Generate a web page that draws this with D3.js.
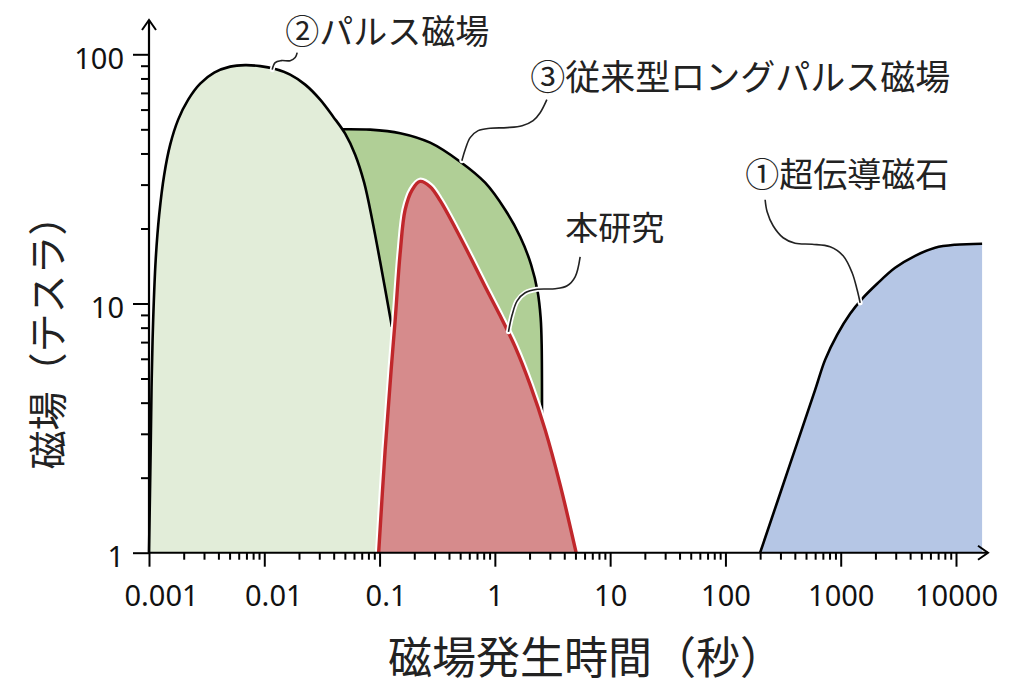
<!DOCTYPE html>
<html><head><meta charset="utf-8">
<script src="https://cdn.jsdelivr.net/npm/d3@7"></script>
<style>
body{margin:0;background:#fff}
.num{font-family:"Noto Sans","Open Sans",sans-serif;fill:#111}
.jp{font-family:"Noto Sans CJK JP","Noto Sans",sans-serif;fill:#222}
</style>
</head><body><svg id="c" width="1024" height="699"></svg>
<script>
// ---------- axis data ----------
const xTickValues = [0.001, 0.01, 0.1, 1, 10, 100, 1000, 10000];
const xTickLabels = ["0.001", "0.01", "0.1", "1", "10", "100", "1000", "10000"];
const yTickValues = [1, 10, 100];
const yTickLabels = ["1", "10", "100"];
const xTitle = "磁場発生時間（秒）";
const yTitle = "磁場（テスラ）";

// ---------- ② pulse magnet (seconds, tesla) ----------
const pulseTime  = [0.001, 0.001034, 0.001055, 0.001087, 0.001143, 0.001226, 0.001355, 0.001527, 0.001791, 0.002188, 0.00278, 0.003678, 0.005061, 0.006829, 0.009213, 0.01243, 0.01677, 0.02263, 0.03053, 0.03959, 0.0503, 0.06143, 0.07353, 0.08627, 0.1012, 0.1141, 0.1279];
const pulseField = [1, 2.585, 4.938, 8.603, 14.98, 22.71, 32.88, 43.39, 54.68, 65.79, 76.26, 84.42, 89.24, 90.49, 89.66, 87.21, 82.88, 75.56, 65.79, 56.21, 48.03, 39.55, 30.53, 21.69, 14.71, 10.84, 8.06];
const pulseHiddenTime = [0.133];
const pulseHiddenField = [1];

// ---------- ③ conventional long pulse ----------
const longTime  = [0.04, 0.08287, 0.1509, 0.2747, 0.5003, 0.824, 1.228, 1.658, 2.064, 2.351, 2.496, 2.547, 2.547];
const longField = [50, 49.85, 48.26, 44.2, 37.07, 30.53, 23.78, 18.53, 14.3, 11.14, 8.761, 6.826, 1];

// ---------- 本研究 ----------
const thisTime  = [0.0982, 0.1118, 0.126, 0.1366, 0.151, 0.1667, 0.1918, 0.2249, 0.2747, 0.3355, 0.4527, 0.6107, 0.824, 1.112, 1.5, 2.024, 2.731, 3.685, 5.07];
const thisField = [1, 2.585, 5.42, 8.6, 16.0, 23.8, 28.6, 30.9, 29.43, 25.85, 20.14, 15.4, 11.67, 8.925, 6.7, 4.716, 3.111, 1.871, 1];

// ---------- ① superconducting magnet ----------
const scTime  = [200, 364, 599.8, 732, 930.6, 1206, 1533, 2069, 2964, 4420, 6587, 9822, 16840];
const scField = [1, 2.271, 4.501, 5.94, 7.484, 9.093, 10.44, 12.0, 13.91, 15.54, 16.74, 17.21, 17.37];

// ---------- annotations (leader lines in data units) ----------
const labelTexts = ["②パルス磁場", "③従来型ロングパルス磁場", "本研究", "①超伝導磁石"];
const labelTime  = [0.01518, 2.024, 4.07, 148.3];
const labelField = [110.4, 71.8, 17.94, 29.43];
const leader2Time  = [0.01171, 0.01243, 0.01402, 0.01678, 0.01854, 0.01929];
const leader2Field = [86.8, 92.6, 94.3, 94.3, 97.0, 101.6];
const leader3Time  = [0.5175, 0.5526, 0.6107, 0.7163, 0.9103, 1.2786, 1.7252, 2.149, 2.471, 2.825];
const leader3Field = [37.4, 41.4, 46.3, 49.4, 50.5, 50.8, 51.7, 54.2, 58.3, 65.8];
const leaderThisTime  = [1.312, 1.4125, 1.561, 1.831, 2.328, 3.334, 4.236, 4.971, 5.493];
const leaderThisField = [7.70, 9.01, 10.25, 11.04, 11.40, 11.46, 11.78, 12.80, 15.40];
const leader1Time  = [221, 230, 259.2, 316.6, 402.3, 564.9, 809.3, 1049, 1256, 1388, 1474];
const leader1Field = [26.09, 23.35, 20.51, 18.36, 17.45, 17.29, 16.89, 15.54, 13.29, 11.35, 10.06];

// ---------- drawing ----------
const zip = (a, b) => a.map((v, i) => [v, b[i]]);
const svg = d3.select("#c");
const x = d3.scaleLog().domain([0.001, 10000]).range([149, 956]);
const y = d3.scaleLog().domain([1, 100]).range([552.7, 54.3]);
const curve = d3.curveCatmullRom.alpha(0.5);
const line = d3.line().x(d => x(d[0])).y(d => y(d[1])).curve(curve);
const area = d3.area().x(d => x(d[0])).y0(y(1)).y1(d => y(d[1])).curve(curve);

const pulse = zip(pulseTime, pulseField);
const pulseFill = pulse.concat(zip(pulseHiddenTime, pulseHiddenField));
const longP = zip(longTime, longField);
const thisP = zip(thisTime, thisField);
const sc = zip(scTime, scField);

const g = svg.append("g");
// ③
g.append("path").attr("d", area(longP)).attr("fill", "#b0cf96");
g.append("path").attr("d", line(longP)).attr("fill", "none").attr("stroke", "#000").attr("stroke-width", 2.6);
// ②
g.append("path").attr("d", area(pulseFill)).attr("fill", "#e2edd9");
g.append("path").attr("d", line(pulse)).attr("fill", "none").attr("stroke", "#000").attr("stroke-width", 2.6);
// 本研究
g.append("path").attr("d", line(thisP)).attr("fill", "none").attr("stroke", "#fff").attr("stroke-width", 7.5).attr("stroke-linejoin", "round");
g.append("path").attr("d", area(thisP)).attr("fill", "#d68b8c");
g.append("path").attr("d", line(thisP)).attr("fill", "none").attr("stroke", "#c0272b").attr("stroke-width", 3.4);
// ①
g.append("path").attr("d", area(sc)).attr("fill", "#b5c6e5");
g.append("path").attr("d", line(sc)).attr("fill", "none").attr("stroke", "#000").attr("stroke-width", 2.6);

// ---------- axes ----------
const minorTicks = (lo, hi) => {
  const out = [];
  for (let d = lo; d < hi * 0.999; d *= 10) for (let k = 2; k <= 9; k++) out.push(d * k);
  return out;
};
const axisG = svg.append("g");
const yAxis0 = y(1);
axisG.append("g").attr("transform", `translate(0,${yAxis0})`)
  .call(d3.axisBottom(x).tickValues(minorTicks(0.001, 10000)).tickSize(7).tickFormat(""))
  .call(s => s.select(".domain").remove())
  .call(s => s.selectAll("line").attr("stroke", "#000").attr("stroke-width", 2));
axisG.append("g").attr("transform", `translate(0,${yAxis0})`)
  .call(d3.axisBottom(x).tickValues(xTickValues).tickSize(14).tickFormat((d, i) => xTickLabels[i]))
  .call(s => s.select(".domain").remove())
  .call(s => s.selectAll("line").attr("stroke", "#000").attr("stroke-width", 2))
  .call(s => s.selectAll("text").attr("class", "num").attr("font-size", 29).attr("y", 53).attr("dy", 0)
    .attr("dx", d => { const l = xTickLabels[xTickValues.indexOf(d)]; return l.includes(".") ? 3 * l.length - 3 : 0; }));
const xAxis0 = x(0.001);
axisG.append("g").attr("transform", `translate(${xAxis0},0)`)
  .call(d3.axisLeft(y).tickValues(minorTicks(1, 100)).tickSize(8).tickFormat(""))
  .call(s => s.select(".domain").remove())
  .call(s => s.selectAll("line").attr("stroke", "#000").attr("stroke-width", 2));
axisG.append("g").attr("transform", `translate(${xAxis0},0)`)
  .call(d3.axisLeft(y).tickValues(yTickValues).tickSize(16).tickFormat((d, i) => yTickLabels[i]))
  .call(s => s.select(".domain").remove())
  .call(s => s.selectAll("line").attr("stroke", "#000").attr("stroke-width", 2))
  .call(s => s.selectAll("text").attr("class", "num").attr("font-size", 29).attr("x", -25).attr("dy", 0).attr("y", 14));
const xEnd = 988, yTop = 20;
axisG.append("line").attr("x1", xAxis0).attr("x2", xEnd).attr("y1", yAxis0).attr("y2", yAxis0).attr("stroke", "#000").attr("stroke-width", 2);
axisG.append("line").attr("x1", xAxis0).attr("x2", xAxis0).attr("y1", yAxis0).attr("y2", yTop).attr("stroke", "#000").attr("stroke-width", 2.2);
axisG.append("path").attr("d", `M${xEnd - 10},${yAxis0 - 7}L${xEnd},${yAxis0}L${xEnd - 10},${yAxis0 + 7}`).attr("fill", "none").attr("stroke", "#000").attr("stroke-width", 2);
axisG.append("path").attr("d", `M${xAxis0 - 7},${yTop + 10}L${xAxis0},${yTop}L${xAxis0 + 7},${yTop + 10}`).attr("fill", "none").attr("stroke", "#000").attr("stroke-width", 2);

// titles
svg.append("text").attr("class", "jp").attr("x", 586).attr("y", 674).attr("text-anchor", "middle").attr("font-size", 44).text(xTitle);
svg.append("text").attr("class", "jp").attr("transform", "translate(62,333) rotate(-90)").attr("text-anchor", "middle").attr("font-size", 39).text(yTitle);

// leaders
const leaders = [zip(leader2Time, leader2Field), zip(leader3Time, leader3Field), zip(leaderThisTime, leaderThisField), zip(leader1Time, leader1Field)];
const lg = svg.append("g");
leaders.forEach(p => {
  lg.append("path").attr("d", line(p)).attr("fill", "none").attr("stroke", "#fff").attr("stroke-width", 5).attr("stroke-linecap", "round");
});
leaders.forEach(p => {
  lg.append("path").attr("d", line(p)).attr("fill", "none").attr("stroke", "#222").attr("stroke-width", 1.6);
});
// labels
const labelSizes = [34, 35, 33, 34];
labelTexts.forEach((t, i) => {
  svg.append("text").attr("class", "jp").attr("x", x(labelTime[i])).attr("y", y(labelField[i]))
    .attr("font-size", labelSizes[i]).text(t);
});
</script>
</body></html>
